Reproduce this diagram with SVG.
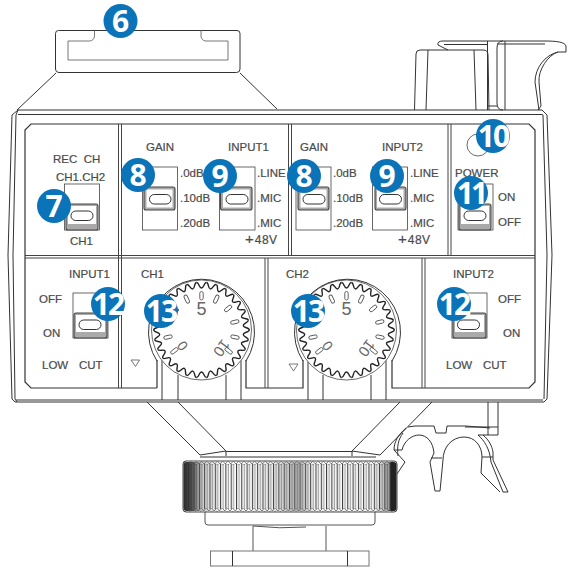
<svg xmlns="http://www.w3.org/2000/svg" width="575" height="572" viewBox="0 0 575 572">
<style>
.l{fill:none;stroke:#333;stroke-width:1}
.g{fill:none;stroke:#777;stroke-width:1}
.t{font-family:"Liberation Sans",Arial,sans-serif;font-size:11.5px;fill:#4a4a4a;stroke:#4a4a4a;stroke-width:.2}
.d{font-family:"Liberation Sans",Arial,sans-serif;fill:#666}
.bc{fill:#0b74b9}
.bt{font-family:"Open Sans","Liberation Sans",sans-serif;font-weight:700;font-size:30px;fill:#fff;text-anchor:middle}
.box{fill:#fff;stroke:#444;stroke-width:.8}
.thumb{fill:#aaa;stroke:#444;stroke-width:1.1}
.slot{fill:#fff;stroke:#333;stroke-width:1}
.tick{fill:#fff;stroke:#555;stroke-width:.9}
</style>
<defs>
<pattern id="kn" width="5.3" height="10" patternUnits="userSpaceOnUse" x="183">
<rect width="5.3" height="10" fill="#fff"/><rect x="0" width="1" height="10" fill="#333"/><rect x="2.4" width="1.2" height="10" fill="#aaa"/>
</pattern>
<pattern id="zz" width="5.3" height="3" patternUnits="userSpaceOnUse" x="183" y="461">
<path d="M0,3 L2.65,0 L5.3,3" fill="none" stroke="#444" stroke-width=".7"/>
</pattern>
<linearGradient id="sh" x1="0" x2="1" y1="0" y2="0">
<stop offset="0" stop-color="#222" stop-opacity=".95"/><stop offset=".04" stop-color="#333" stop-opacity=".85"/><stop offset=".09" stop-color="#555" stop-opacity=".3"/><stop offset=".2" stop-color="#888" stop-opacity="0"/><stop offset=".42" stop-color="#777" stop-opacity=".15"/><stop offset=".54" stop-color="#666" stop-opacity=".55"/><stop offset=".62" stop-color="#888" stop-opacity=".05"/><stop offset=".9" stop-color="#555" stop-opacity=".05"/><stop offset=".965" stop-color="#333" stop-opacity=".5"/><stop offset=".975" stop-color="#222" stop-opacity="1"/><stop offset="1" stop-color="#222" stop-opacity="1"/>
</linearGradient>
<path id="tooth" d="M-5,-47.5 C-2.5,-47.8 -2.5,-42 0,-42 C2.500,-42 2.500,-47.800 5,-47.500" fill="none" stroke="#222" stroke-width="1.4"/>
<rect id="tk" x="-1.7" y="-38.5" width="3.4" height="8.5" rx="1.7" class="tick"/>
<g id="dial">
<circle r="50" fill="#fff" stroke="#444" stroke-width=".8"/>
<use href="#tooth"/><use href="#tooth" transform="rotate(12)"/><use href="#tooth" transform="rotate(24)"/><use href="#tooth" transform="rotate(36)"/><use href="#tooth" transform="rotate(48)"/><use href="#tooth" transform="rotate(60)"/><use href="#tooth" transform="rotate(72)"/><use href="#tooth" transform="rotate(84)"/><use href="#tooth" transform="rotate(96)"/><use href="#tooth" transform="rotate(108)"/><use href="#tooth" transform="rotate(120)"/><use href="#tooth" transform="rotate(132)"/><use href="#tooth" transform="rotate(144)"/><use href="#tooth" transform="rotate(156)"/><use href="#tooth" transform="rotate(168)"/><use href="#tooth" transform="rotate(180)"/><use href="#tooth" transform="rotate(192)"/><use href="#tooth" transform="rotate(204)"/><use href="#tooth" transform="rotate(216)"/><use href="#tooth" transform="rotate(228)"/><use href="#tooth" transform="rotate(240)"/><use href="#tooth" transform="rotate(252)"/><use href="#tooth" transform="rotate(264)"/><use href="#tooth" transform="rotate(276)"/><use href="#tooth" transform="rotate(288)"/><use href="#tooth" transform="rotate(300)"/><use href="#tooth" transform="rotate(312)"/><use href="#tooth" transform="rotate(324)"/><use href="#tooth" transform="rotate(336)"/><use href="#tooth" transform="rotate(348)"/>
<use href="#tk"/><use href="#tk" transform="rotate(25.5)"/><use href="#tk" transform="rotate(51)"/><use href="#tk" transform="rotate(76.5)"/><use href="#tk" transform="rotate(102)"/><use href="#tk" transform="rotate(127.5)"/><use href="#tk" transform="rotate(-25.5)"/><use href="#tk" transform="rotate(-51)"/><use href="#tk" transform="rotate(-76.5)"/><use href="#tk" transform="rotate(-102)"/><use href="#tk" transform="rotate(-127.5)"/>
<text class="d" x="0" y="-15" font-size="18" text-anchor="middle">5</text>
<text class="d" font-size="14" text-anchor="middle" transform="translate(-19,16) rotate(-127)" y="5">0</text>
<text class="d" font-size="15" text-anchor="middle" transform="translate(20,18) rotate(127)" y="5">10</text>
</g>
</defs>

<g id="top-plate">
<path class="l" d="M56,73 L17,110 M240,73 L277,109"/>
<path class="l" d="M58.5,30.5 H237 a3,3 0 0 1 3,3 V69 a3.5,3.5 0 0 1 -3.5,3.5 H59 a3.500,3.500 0 0 1 -3.500,-3.500 V33.500 a3,3 0 0 1 3,-3 Z"/>
<path class="g" d="M94.5,30.5 V36 a5,5 0 0 1 -5,5 H68 V60 H228 V41 H206 a5,5 0 0 1 -5,-5 V30.5"/>
</g>

<g id="rear-block">
<path class="l" d="M414.5,110 L416,54 a4,4 0 0 1 4,-4 H483 q5,0 5,5 L489,110 M428,50 L426,110 M474,50 L476,110"/>
<path class="l" d="M448,50 L438,45 Q437,41 443,41 H545 C556,41 565,42 566,46 L566,52 H558 C545,55 535,68 535,82 L539,110"/>
<path class="l" d="M444,44.5 H487 M497,44 H545 M558,52 C548,55 538,70 539,82 L541,106 L538,110 M487.5,41 V110 M487.5,106 H497"/>
<path class="l" d="M497,48 Q497,41 503,41 M497,48 V103 Q497,110 503,110 M505,41 V110"/>
</g>

<g id="body">
<path class="l" d="M18,110 H542 L547,115 L552,255 L547,399 L544,402 H15 L12,399 L8,255 L12,115 Z"/>
<path class="l" d="M18,110 L16,115 L13,255 L15,399 L17,402 M18,114.5 H542 L543,115 L547,255 L544,399 M16,400 H543" stroke="#666"/>
<path fill="none" stroke="#333" stroke-width="1.2" d="M157,388 H31 L25,382 V130 L31,124 H529 L535,130 V382 L529,388 H392 V360 M246,360 V388 H303 V360 M157,388 V360"/>
<path fill="none" stroke="#444" stroke-width="1" d="M118.5,124 V388 M121.5,124 V388 M288.5,124 V256 M291.5,124 V256 M448,124 V256 M451,124 V256 M25,255.5 H535 M25,258 H535 M265,258 V388 M268,258 V388 M422,258 V388 M425,258 V388"/>
<path class="l" d="M162,360 V400 M178,375 V400 M226,375 V400 M241,360 V400 M308,360 V400 M323,375 V400 M371,375 V400 M386,360 V400"/>
</g>

<g id="mount">
<path class="l" d="M147,402 L200,455 M178,402 L226,451 M432,402 L380,455 M400,402 L352,451"/>
<path class="l" d="M200,455 L226,451 V456 M380,455 L352,451 V456 M226,451.5 H352 M200,457 H376"/>
<path fill="none" stroke="#555" stroke-width="1" d="M205,512 V522 q0,3 3,3 H372 q3,0 3,-3 V512"/>
<path fill="none" stroke="#555" stroke-width="1" d="M253,526 V551 M326,526 V551 M253,526 Q280,529 306,527"/>
<rect x="210.5" y="551" width="158.5" height="15" fill="#fff" stroke="#777"/>
<path class="l" d="M232.5,551 V566 M347.5,551 V566"/>
</g>

<g id="knurl-ring">
<rect x="183" y="461" width="214" height="51" rx="3" fill="#fff" stroke="#444"/>
<rect x="184" y="464" width="212" height="45" fill="url(#kn)"/>
<rect x="184" y="461.5" width="212" height="3" fill="url(#zz)"/>
<rect x="184" y="508.5" width="212" height="3" fill="url(#zz)" transform="rotate(180 290 510)"/>
<rect x="183.5" y="462" width="213" height="49" rx="3" fill="url(#sh)"/>
</g>

<g id="clip">
<path class="l" d="M408,427 L415,426 H434 L436,433 H446 L447,426 H466 L490,428"/>
<path class="l" d="M488,402 V435 M498,402 V435 M465,427 H498 M478,435 H498"/>
<path class="l" d="M406,428 C398,435 394,442 394,450 L405,462 L397,474"/>
<path class="l" d="M403,433 C398,440 397,446 398,456 M394,450 H402"/>
<path class="l" d="M402,450 C404,441 412,435 419,435 C427,435 433,442 434,453 L430,462 L435,491 H440 L443,460 C443,447 452,437 464,437 C475,437 482,446 482,457 L481,473 L500,492 M431,458 H442"/>
<path class="l" d="M478,435 C484,440 490,449 491,462 L503,492 H508 L493,460 L493,452 C492,446 489,440 483,435 M482,457 H493"/>
</g>

<g id="dial-ch1"><use href="#dial" transform="translate(201.5,330)"/><path class="l" d="M157,361 A53,53 0 1 1 246,361"/></g>
<g id="dial-ch2"><use href="#dial" transform="translate(346.5,330)"/><path class="l" d="M303,361 A53,53 0 1 1 392,361"/></g>

<g id="switches">
<g id="sw7"><rect class="box" x="64.5" y="184" width="35" height="46"/><rect class="thumb" x="66" y="204" width="32" height="26" rx="2"/><rect fill="#fff" x="68" y="206" width="28" height="18"/><rect class="slot" x="71" y="211" width="22" height="9.5" rx="4.7"/></g>
<g id="sw8a"><rect class="box" x="142.5" y="167" width="35" height="63"/><rect class="thumb" x="144" y="187" width="31" height="23" rx="2"/><rect fill="#fff" x="146.500" y="189.500" width="26" height="18"/><rect class="slot" x="149.500" y="194.500" width="21.500" height="9.500" rx="4.700"/></g>
<g id="sw9a"><rect class="box" x="219.500" y="167" width="35.500" height="63"/><rect class="thumb" x="220.500" y="187" width="31.500" height="23" rx="2"/><rect fill="#fff" x="223" y="189.500" width="26.500" height="18"/><rect class="slot" x="226" y="194.500" width="22" height="9.500" rx="4.700"/></g>
<g id="sw8b"><rect class="box" x="296" y="167" width="35" height="63"/><rect class="thumb" x="298" y="187" width="31" height="23" rx="2"/><rect fill="#fff" x="300.500" y="189.500" width="26" height="18"/><rect class="slot" x="303" y="194.500" width="22" height="9.500" rx="4.700"/></g>
<g id="sw9b"><rect class="box" x="372.500" y="167" width="35" height="63"/><rect class="thumb" x="375" y="187" width="31" height="23" rx="2"/><rect fill="#fff" x="377" y="189.500" width="26.500" height="18"/><rect class="slot" x="379.500" y="194.500" width="22" height="9.500" rx="4.700"/></g>
<g id="sw11"><rect class="box" x="458" y="184" width="35" height="46"/><rect class="thumb" x="459" y="204" width="32" height="26" rx="2"/><rect fill="#fff" x="461" y="206" width="28" height="18"/><rect class="slot" x="464" y="211" width="22" height="9.500" rx="4.700"/></g>
<g id="sw12a"><rect class="box" x="73" y="293" width="35" height="45"/><rect class="thumb" x="74" y="313" width="33" height="25" rx="2"/><rect fill="#fff" x="76" y="315" width="29" height="17"/><rect class="slot" x="79" y="320" width="22" height="9.500" rx="4.700"/></g>
<g id="sw12b"><rect class="box" x="452" y="293" width="35" height="45"/><rect class="thumb" x="453" y="313" width="33" height="25" rx="2"/><rect fill="#fff" x="455" y="315" width="29" height="17"/><rect class="slot" x="457.500" y="320" width="22" height="9.500" rx="4.700"/></g>
<circle cx="478" cy="145" r="11" fill="#fff" stroke="#444" stroke-width=".8"/>
<path d="M131,360 H139.500 L135.500,366.500 Z M289,364 H298 L293.500,371 Z" fill="#fff" stroke="#555" stroke-width=".8"/>
</g>

<g id="labels">
<text class="t" x="53" y="163" xml:space="preserve" style="white-space:pre">REC  CH</text>
<text class="t" x="56" y="181">CH1.CH2</text>
<text class="t" x="70" y="245">CH1</text>
<text class="t" x="146" y="151">GAIN</text>
<text class="t" x="228" y="151">INPUT1</text>
<text class="t" x="180" y="177">.0dB</text><text class="t" x="180" y="202">.10dB</text><text class="t" x="180" y="227">.20dB</text>
<text class="t" x="257" y="177">.LINE</text><text class="t" x="257" y="202">.MIC</text><text class="t" x="257" y="227">.MIC</text>
<text class="t" x="245" y="244"><tspan font-size="15">+</tspan><tspan dx="1" font-size="12" letter-spacing=".5">48V</tspan></text>
<text class="t" x="300" y="151">GAIN</text>
<text class="t" x="382" y="151">INPUT2</text>
<text class="t" x="333" y="177">.0dB</text><text class="t" x="333" y="202">.10dB</text><text class="t" x="333" y="227">.20dB</text>
<text class="t" x="410" y="177">.LINE</text><text class="t" x="410" y="202">.MIC</text><text class="t" x="410" y="227">.MIC</text>
<text class="t" x="398" y="244"><tspan font-size="15">+</tspan><tspan dx="1" font-size="12" letter-spacing=".5">48V</tspan></text>
<text class="t" x="455" y="177">POWER</text>
<text class="t" x="498" y="200.500">ON</text>
<text class="t" x="498" y="226">OFF</text>
<text class="t" x="69" y="278">INPUT1</text>
<text class="t" x="39" y="303">OFF</text>
<text class="t" x="43" y="337">ON</text>
<text class="t" x="42" y="369">LOW</text>
<text class="t" x="79" y="369">CUT</text>
<text class="t" x="141" y="278">CH1</text>
<text class="t" x="286" y="278">CH2</text>
<text class="t" x="453" y="278">INPUT2</text>
<text class="t" x="498" y="303">OFF</text>
<text class="t" x="503" y="337">ON</text>
<text class="t" x="446" y="369">LOW</text>
<text class="t" x="483" y="369">CUT</text>
</g>

<g id="badge-6"><circle class="bc" cx="120.500" cy="21" r="17"/><text class="bt" x="120.500" y="32">6</text></g>
<g id="badge-7"><circle class="bc" cx="54" cy="206" r="17"/><text class="bt" x="54" y="217">7</text></g>
<g id="badge-8a"><circle class="bc" cx="138" cy="175" r="17"/><text class="bt" x="138" y="186">8</text></g>
<g id="badge-9a"><circle class="bc" cx="220" cy="176" r="17"/><text class="bt" x="220" y="187">9</text></g>
<g id="badge-8b"><circle class="bc" cx="304" cy="176" r="17"/><text class="bt" x="304" y="187">8</text></g>
<g id="badge-9b"><circle class="bc" cx="387" cy="176" r="17"/><text class="bt" x="387" y="187">9</text></g>
<g id="badge-10"><circle class="bc" cx="493" cy="136" r="17"/><text class="bt" x="493" y="147" letter-spacing="-2">10</text></g>
<g id="badge-11"><circle class="bc" cx="471" cy="193" r="17"/><text class="bt" x="471" y="204" letter-spacing="-3">11</text></g>
<g id="badge-12a"><circle class="bc" cx="108" cy="304" r="17"/><text class="bt" x="108" y="315" letter-spacing="-2">12</text></g>
<g id="badge-13a"><circle class="bc" cx="161" cy="311" r="17"/><text class="bt" x="161" y="322" letter-spacing="-2">13</text></g>
<g id="badge-12b"><circle class="bc" cx="454" cy="304" r="17"/><text class="bt" x="454" y="315" letter-spacing="-2">12</text></g>
<g id="badge-13b"><circle class="bc" cx="308" cy="311" r="17"/><text class="bt" x="308" y="322" letter-spacing="-2">13</text></g>
</svg>
